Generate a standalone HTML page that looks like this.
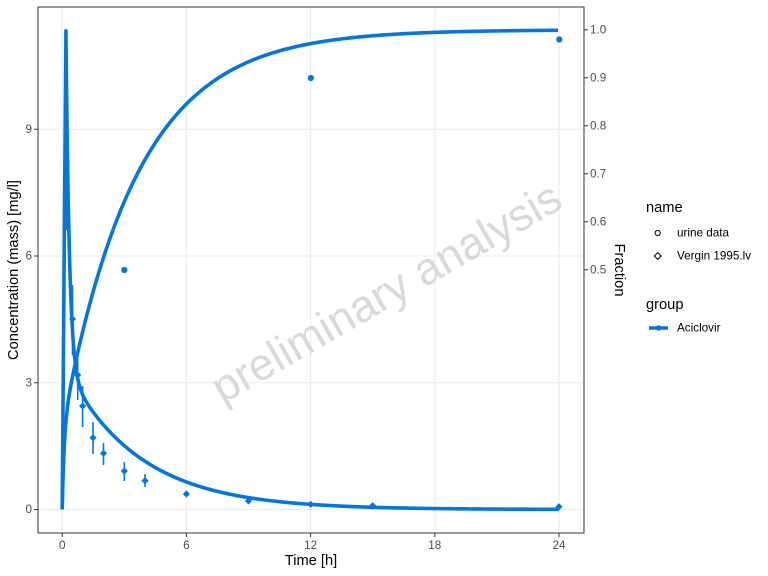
<!DOCTYPE html>
<html><head><meta charset="utf-8">
<style>
html,body{margin:0;padding:0;background:#fff;}
svg{display:block;font-family:"Liberation Sans",sans-serif;}
</style></head>
<body>
<svg id="s" width="768" height="576" viewBox="0 0 768 576" xmlns="http://www.w3.org/2000/svg">
<rect width="768" height="576" fill="#fff"/>
<!-- grid -->
<g stroke="#ebebeb" stroke-width="1.1">
<line x1="38" x2="584" y1="509.5" y2="509.5"/>
<line x1="38" x2="584" y1="382.75" y2="382.75"/>
<line x1="38" x2="584" y1="256" y2="256"/>
<line x1="38" x2="584" y1="129.25" y2="129.25"/>
<line y1="7" y2="533" x1="62.2" x2="62.2"/>
<line y1="7" y2="533" x1="186.4" x2="186.4"/>
<line y1="7" y2="533" x1="310.6" x2="310.6"/>
<line y1="7" y2="533" x1="434.8" x2="434.8"/>
<line y1="7" y2="533" x1="559" x2="559"/>
</g>
<!-- watermark -->
<text x="386" y="292" transform="rotate(-30 386 292)" text-anchor="middle" dominant-baseline="central" font-size="45" fill="#d9d9d9">preliminary analysis</text>
<!-- curves -->
<g fill="none" stroke="#0676d9" stroke-width="3.6" stroke-linejoin="round" stroke-linecap="butt">
<path id="conc"/>
<path id="frac"/>
</g>
<!-- error bars -->
<g stroke="#0676d9" stroke-width="1.6" id="eb"></g>
<g fill="#0676d9" id="pts"></g>
<!-- panel border -->
<rect x="38" y="7" width="546" height="526" fill="none" stroke="#333" stroke-width="1"/>
<!-- ticks -->
<g stroke="#333" stroke-width="1">
<line x1="34" x2="38" y1="509.5" y2="509.5"/>
<line x1="34" x2="38" y1="382.75" y2="382.75"/>
<line x1="34" x2="38" y1="256" y2="256"/>
<line x1="34" x2="38" y1="129.25" y2="129.25"/>
<line y1="533" y2="537" x1="62.2" x2="62.2"/>
<line y1="533" y2="537" x1="186.4" x2="186.4"/>
<line y1="533" y2="537" x1="310.6" x2="310.6"/>
<line y1="533" y2="537" x1="434.8" x2="434.8"/>
<line y1="533" y2="537" x1="559" x2="559"/>
<line x1="584" x2="588" y1="269.8" y2="269.8"/>
<line x1="584" x2="588" y1="221.8" y2="221.8"/>
<line x1="584" x2="588" y1="173.8" y2="173.8"/>
<line x1="584" x2="588" y1="125.8" y2="125.8"/>
<line x1="584" x2="588" y1="77.8" y2="77.8"/>
<line x1="584" x2="588" y1="29.8" y2="29.8"/>
</g>
<g font-size="11.7" fill="#4d4d4d">
<g text-anchor="end" dominant-baseline="central">
<text x="32" y="509.5">0</text>
<text x="32" y="382.75">3</text>
<text x="32" y="256">6</text>
<text x="32" y="129.25">9</text>
</g>
<g text-anchor="middle">
<text x="62.2" y="549">0</text>
<text x="186.4" y="549">6</text>
<text x="310.6" y="549">12</text>
<text x="434.8" y="549">18</text>
<text x="559" y="549">24</text>
</g>
<g dominant-baseline="central">
<text x="590" y="269.8">0.5</text>
<text x="590" y="221.8">0.6</text>
<text x="590" y="173.8">0.7</text>
<text x="590" y="125.8">0.8</text>
<text x="590" y="77.8">0.9</text>
<text x="590" y="29.8">1.0</text>
</g>
</g>
<!-- axis titles -->
<g font-size="14.67" fill="#000">
<text x="311" y="565" text-anchor="middle">Time [h]</text>
<text x="0" y="0" transform="translate(18 270) rotate(-90)" text-anchor="middle">Concentration (mass) [mg/l]</text>
<text x="0" y="0" transform="translate(615 270) rotate(90)" text-anchor="middle">Fraction</text>
</g>
<!-- legend -->
<g font-size="14.67" fill="#000">
<text x="646" y="212">name</text>
<text x="646" y="309">group</text>
</g>
<g font-size="11.7" fill="#000" dominant-baseline="central">
<text x="677" y="233">urine data</text>
<text x="677" y="256">Vergin 1995.lv</text>
<text x="677" y="328">Aciclovir</text>
</g>
<circle cx="657.7" cy="233" r="2.6" fill="none" stroke="#000" stroke-width="1"/>
<path d="M657.7 252.6 L661.1 256 L657.7 259.4 L654.3 256 Z" fill="none" stroke="#000" stroke-width="1"/>
<line x1="649" x2="668" y1="328" y2="328" stroke="#0676d9" stroke-width="3.6"/>
<circle cx="658.5" cy="328" r="2.8" fill="#0676d9"/>
<script>
(function(){
var X=function(t){return 62.2+20.7*t;};
var Y=function(c){return 509.5-42.25*c;};
var YF=function(f){return 509.5-479.7*f;};
var T=0.18;
var d="M"+X(0)+" "+Y(0)+" L"+X(T).toFixed(2)+" "+Y(11.33).toFixed(2);
for(var t=T+0.01;t<=24.0001;t+=(t<1?0.01:0.05)){
 var c=8.0*Math.exp(-6.0*(t-T))+3.5*Math.exp(-0.28*t);
 d+=" L"+X(t).toFixed(2)+" "+Y(c).toFixed(2);
}
document.getElementById("conc").setAttribute("d",d);
var e="M"+X(0)+" "+YF(0);
for(var t=0.005;t<=24.0001;t+=(t<1?0.01:0.05)){
 var f=1-0.17*Math.exp(-10*t)-0.83*Math.exp(-0.28*t);
 e+=" L"+X(t).toFixed(2)+" "+YF(f).toFixed(2);
}
document.getElementById("frac").setAttribute("d",e);
var NS="http://www.w3.org/2000/svg";
var dia=[[66.3,175,130,230],[72.5,319,285,355],[77.7,375,350,400],[82.6,406,386,427],[93,437.7,422,454],[103.5,453.3,443,465],[124.3,471,462,481],[145,480.7,474,487],[186.4,494,491,497],[248.5,501,499,503],[310.6,504.3,503,506],[372.7,505.7,505,507],[559,506.7,506,508]];
var eb=document.getElementById("eb"),pts=document.getElementById("pts");
dia.forEach(function(p){
 var l=document.createElementNS(NS,"line");
 l.setAttribute("x1",p[0]);l.setAttribute("x2",p[0]);l.setAttribute("y1",p[2]);l.setAttribute("y2",p[3]);
 eb.appendChild(l);
 var q=document.createElementNS(NS,"path"),r=3.6;
 q.setAttribute("d","M"+p[0]+" "+(p[1]-r)+" L"+(p[0]+r)+" "+p[1]+" L"+p[0]+" "+(p[1]+r)+" L"+(p[0]-r)+" "+p[1]+" Z");
 pts.appendChild(q);
});
[[124.3,270],[310.8,78],[559.3,39.5]].forEach(function(p){
 var c=document.createElementNS(NS,"circle");
 c.setAttribute("cx",p[0]);c.setAttribute("cy",p[1]);c.setAttribute("r",3.1);
 pts.appendChild(c);
});
})();
</script>
</svg>
</body></html>
